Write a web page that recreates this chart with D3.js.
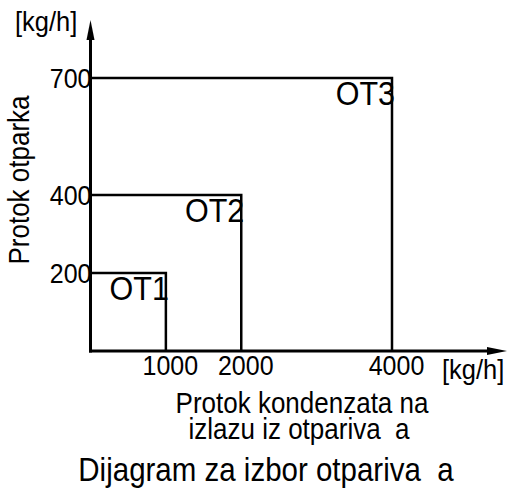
<!DOCTYPE html>
<html>
<head>
<meta charset="utf-8">
<script src="https://cdn.jsdelivr.net/npm/d3@7"></script>
<style>
  html, body { margin: 0; padding: 0; background: #fff; }
  svg { display: block; font-family: "Liberation Sans", Arial, sans-serif; }
  text { fill: #000; white-space: pre; }
</style>
</head>
<body>
<svg id="chart" width="511" height="490"></svg>
<script>
// Evaporator selection regions: condensate flow limit (x) and steam flow limit (y)
const evaporators = ["OT1", "OT2", "OT3"];
const condensateFlow = [1000, 2000, 4000];   // kg/h
const steamFlow = [200, 400, 700];           // kg/h
const xTicks = [1000, 2000, 4000];
const yTicks = [200, 400, 700];
const xTitleLines = ["Protok kondenzata na", "izlazu iz otpariva  a"];

const STRETCH = 1.1; // glyphs are drawn slightly taller than their width

const svg = d3.select("#chart");

const x = d3.scaleLinear().domain([0, 4000]).range([90.5, 392]);
const y = d3.scaleLinear().domain([0, 700]).range([351, 78]);

function label(parent, px, py, txt, size, anchor, rotate) {
  return parent.append("text")
    .attr("transform", `translate(${px},${py})${rotate ? ` rotate(${rotate})` : ""} scale(1,${STRETCH})`)
    .attr("text-anchor", anchor || "start")
    .attr("font-size", size)
    .text(txt);
}

// Region boundaries: top edge and right edge of each rectangle
const g = svg.append("g");
evaporators.forEach((name, i) => {
  const cx = x(condensateFlow[i]);
  const cy = y(steamFlow[i]);
  g.append("path")
    .attr("d", `M${x(0)},${cy}H${cx}V${y(0)}`)
    .attr("fill", "none")
    .attr("stroke", "#000")
    .attr("stroke-width", 2.5);
  label(g, cx + 3, cy + 27, name, 30.5, "end");
});

// Axes with arrowheads
const axisG = svg.append("g");
axisG.append("line")
  .attr("x1", x(0)).attr("y1", y(0) + 1.5)
  .attr("x2", x(0)).attr("y2", 36)
  .attr("stroke", "#000").attr("stroke-width", 3);
axisG.append("path")
  .attr("d", `M${x(0)},20L${x(0) + 4},40L${x(0) - 4},40Z`)
  .attr("fill", "#000");
axisG.append("line")
  .attr("x1", x(0) - 1.5).attr("y1", y(0))
  .attr("x2", 492).attr("y2", y(0))
  .attr("stroke", "#000").attr("stroke-width", 3);
axisG.append("path")
  .attr("d", `M507,${y(0)}L487,${y(0) - 4}L487,${y(0) + 4}Z`)
  .attr("fill", "#000");

// Tick labels via d3 axes
const xAxis = svg.append("g")
  .attr("transform", `translate(4,${y(0)})`)
  .call(d3.axisBottom(x).tickValues(xTicks).tickSize(0).tickFormat(d3.format("d")));
xAxis.select(".domain").remove();
xAxis.selectAll("text")
  .attr("font-family", "Liberation Sans, Arial, sans-serif")
  .attr("font-size", 25)
  .attr("fill", "#000")
  .attr("dy", null)
  .attr("y", 0)
  .attr("transform", `translate(0,24) scale(1,${STRETCH})`);

const yAxis = svg.append("g")
  .attr("transform", `translate(${x(0) + 1},0)`)
  .call(d3.axisLeft(y).tickValues(yTicks).tickSize(0).tickPadding(0).tickFormat(d3.format("d")));
yAxis.select(".domain").remove();
yAxis.selectAll("text")
  .attr("font-family", "Liberation Sans, Arial, sans-serif")
  .attr("font-size", 25)
  .attr("fill", "#000")
  .attr("dy", null)
  .attr("x", 0)
  .attr("y", 0)
  .attr("transform", `translate(0,9) scale(1,${STRETCH})`);

// Units
label(svg, 15, 31, "[kg/h]", 25.5);
label(svg, 442, 379, "[kg/h]", 25.5);

// Axis titles
label(svg, 29, 180, "Protok otparka", 26, "middle", -90);
const xTitle = svg.append("text")
  .attr("transform", `translate(300,413) scale(1,${STRETCH})`)
  .attr("text-anchor", "middle")
  .attr("font-size", 26);
xTitle.selectAll("tspan")
  .data(xTitleLines)
  .join("tspan")
  .attr("x", (d, i) => (i === 0 ? 2 : -1))
  .attr("dy", (d, i) => (i === 0 ? 0 : 23.2))
  .text(d => d);

// Chart title
label(svg, 266, 481, "Dijagram za izbor otpariva  a", 29.5, "middle");
</script>
</body>
</html>
